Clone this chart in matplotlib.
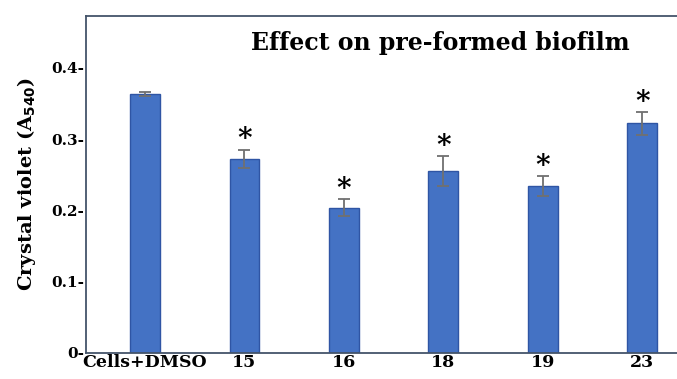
import numpy as np
import matplotlib.pyplot as plt

# data
groups = ['Cells+DMSO', '15', '16', '18', '19', '23']
means = [0.363, 0.272, 0.204, 0.255, 0.234, 0.322]
errors = [0.003, 0.013, 0.012, 0.021, 0.014, 0.016]
signif = [False, True, True, True, True, True]

plt.rcParams['font.family'] = ['DejaVu Serif']

fig = plt.figure(figsize=(6.77, 3.79), dpi=100)
ax = fig.add_axes([0.127, 0.069, 0.873, 0.889])

x = np.arange(len(groups))
ax.bar(x, means, width=0.30, color='#4472c4', edgecolor='#2f55a4', linewidth=1.0,
       yerr=errors, capsize=4,
       error_kw=dict(ecolor='#707070', elinewidth=1.3, capthick=1.3))

# significance marks
for i in range(len(groups)):
    if signif[i]:
        ax.text(x[i], means[i] + errors[i] + 0.014, '*', ha='center', va='center',
                fontsize=20, fontweight='bold', color='black')

ax.set_xlim(-0.594, 5.35)
ax.set_ylim(0, 0.473)

yt = [0, 0.1, 0.2, 0.3, 0.4]
ax.set_yticks(yt)
ax.set_yticklabels(['0-', '0.1-', '0.2-', '0.3-', '0.4-'], fontsize=11, fontweight='bold')
ax.set_xticks(x)
ax.set_xticklabels(groups, fontsize=12.5, fontweight='bold')
ax.tick_params(axis='both', length=0, pad=1)

ax.set_ylabel(r'Crystal violet (A$_{\mathbf{540}}$)', fontsize=14, fontweight='bold', labelpad=10)

ax.text(0.599, 0.92, 'Effect on pre-formed biofilm', transform=ax.transAxes,
        ha='center', va='center', fontsize=17, fontweight='bold')

for s in ['left', 'top', 'bottom']:
    ax.spines[s].set_color('#44546a')
    ax.spines[s].set_linewidth(1.3)
ax.spines['right'].set_visible(False)

fig.savefig('out.png', dpi=100)
